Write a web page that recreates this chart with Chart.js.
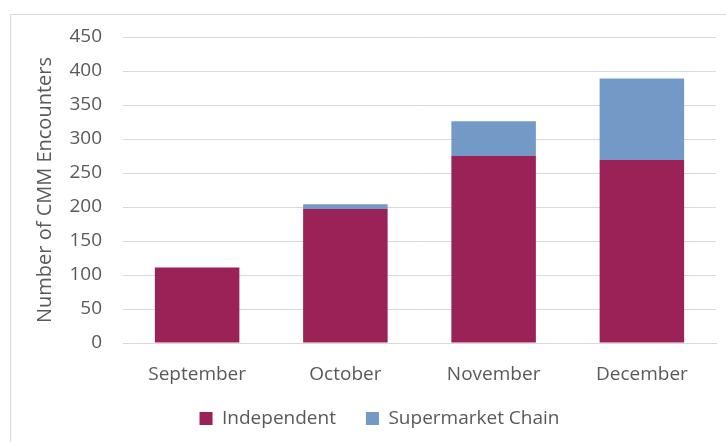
<!DOCTYPE html>
<html>
<head>
<meta charset="utf-8">
<script src="https://cdn.jsdelivr.net/npm/chart.js@4.4.0/dist/chart.umd.min.js"></script>
<style>
  html, body { margin: 0; padding: 0; background: #fff; }
  #frame { position: absolute; left: 10px; top: 14px; width: 716px; height: 428px;
           border-left: 1px solid #d9d9d9; border-top: 1px solid #d9d9d9; box-sizing: border-box; }
  #wrap { position: absolute; left: 0; top: 0; width: 726px; height: 442px; }
</style>
</head>
<body>
<div id="frame"></div>
<div id="wrap"><canvas id="c" width="726" height="442"></canvas></div>
<script>
const categories = ["September", "October", "November", "December"];
const independent = [111, 197, 275, 269];
const supermarketChain = [0, 7, 51, 120];
const yTicks = [0, 50, 100, 150, 200, 250, 300, 350, 400, 450];

const textColor = "#595959";
const fontFamily = "'Open Sans', 'Liberation Sans', sans-serif";

// Place the legend under the plot area as in the original
const legendShift = {
  id: "legendShift",
  afterLayout(chart) {
    const lg = chart.legend;
    const dx = ((chart.chartArea.left + chart.chartArea.right) - (lg.left + lg.right)) / 2 - 40;
    lg.left += dx; lg.right += dx;
    lg.top -= 9; lg.bottom -= 9;
  }
};

new Chart(document.getElementById("c"), {
  type: "bar",
  data: {
    labels: categories,
    datasets: [
      { label: "Independent", data: independent, backgroundColor: "#9b2257",
        categoryPercentage: 1, barPercentage: 0.57 },
      { label: "Supermarket Chain", data: supermarketChain, backgroundColor: "#7399c6",
        categoryPercentage: 1, barPercentage: 0.57 }
    ]
  },
  plugins: [legendShift],
  options: {
    responsive: false,
    animation: false,
    layout: { padding: { left: 0, right: 10, top: 37, bottom: -5 } },
    plugins: {
      tooltip: { enabled: false },
      legend: {
        position: "bottom",
        labels: {
          color: textColor,
          font: { family: fontFamily, size: 19 },
          boxWidth: 13, boxHeight: 13, padding: 30,
          useBorderRadius: false
        }
      }
    },
    scales: {
      x: {
        stacked: true,
        grid: { display: false, drawTicks: false },
        border: { display: true, color: "#d9d9d9" },
        ticks: { color: textColor, font: { family: fontFamily, size: 19 }, padding: 20 },
        afterFit: s => { s.height = 45; }
      },
      y: {
        stacked: true,
        min: 0, max: 450,
        afterBuildTicks: s => { s.ticks = yTicks.map(v => ({ value: v })); },
        grid: { color: "#d9d9d9", drawTicks: false },
        border: { display: false },
        ticks: { color: textColor, font: { family: fontFamily, size: 19 }, padding: 21, stepSize: 50 },
        title: { display: true, text: "Number of CMM Encounters", color: textColor,
                 font: { family: fontFamily, size: 20 }, padding: { top: 33, bottom: 0 } },
        afterFit: s => { s.width = 123; }
      }
    }
  }
});
</script>
</body>
</html>
